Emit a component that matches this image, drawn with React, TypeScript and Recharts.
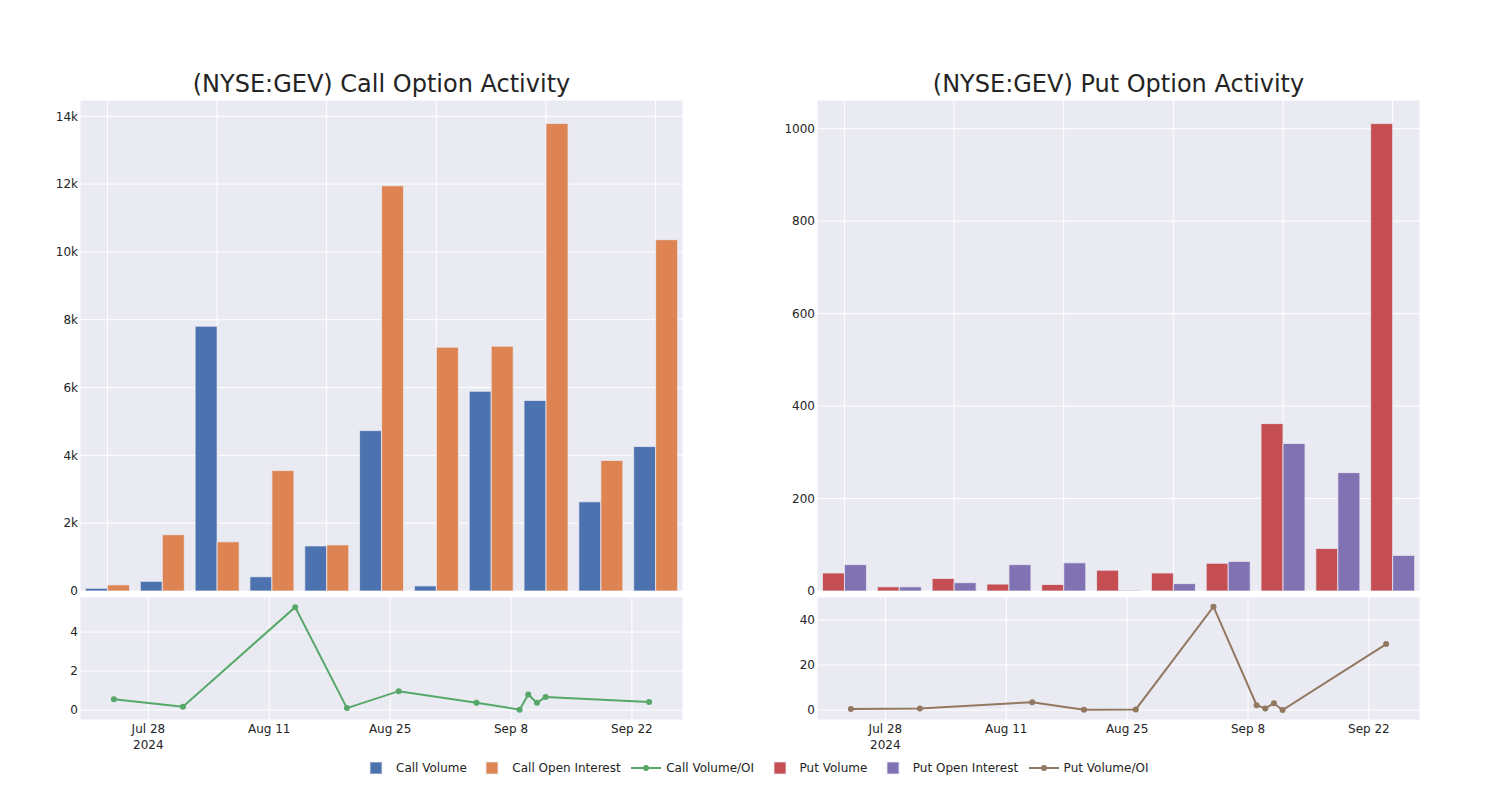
import { BarChart, Bar, LineChart, Line, XAxis, YAxis, CartesianGrid } from 'recharts';

const DAY = 86400000;

// trade dates (UTC midnight)
const dates = [
  Date.UTC(2024, 6, 24), Date.UTC(2024, 7, 1), Date.UTC(2024, 7, 14), Date.UTC(2024, 7, 20),
  Date.UTC(2024, 7, 26), Date.UTC(2024, 8, 4), Date.UTC(2024, 8, 9), Date.UTC(2024, 8, 10),
  Date.UTC(2024, 8, 11), Date.UTC(2024, 8, 12), Date.UTC(2024, 8, 24),
];

const callVolume = [80, 285, 7810, 420, 1330, 4730, 150, 5890, 5620, 2630, 4260];
const callOpenInterest = [180, 1660, 1450, 3550, 1360, 11950, 7190, 7220, 13790, 3850, 10360];
const callRatio = [0.56, 0.17, 5.28, 0.1, 0.97, 0.38, 0.02, 0.8, 0.37, 0.67, 0.41];

const putVolume = [39, 9, 27, 15, 14, 45, 39, 60, 362, 92, 1011];
const putOpenInterest = [57, 9, 18, 57, 61, 1.5, 16, 64, 319, 256, 77];
const putRatio = [0.45, 0.75, 3.5, 0.1, 0.3, 45.9, 2.2, 0.75, 3.0, 0.05, 29.3];

const dateTicks = [
  Date.UTC(2024, 6, 28), Date.UTC(2024, 7, 11), Date.UTC(2024, 7, 25),
  Date.UTC(2024, 8, 8), Date.UTC(2024, 8, 22),
];
const timeDomain = [dates[0] - 3.92 * DAY, dates[dates.length - 1] + 3.92 * DAY];

const callTicks = [0, 2000, 4000, 6000, 8000, 10000, 12000, 14000];
const putTicks = [0, 200, 400, 600, 800, 1000];
const callRatioTicks = [0, 2, 4];
const putRatioTicks = [0, 20, 40];

const BG = '#EAEAF2';
const TXT = '#242424';
const FONT = '"DejaVu Sans", sans-serif';
const MONTHS = ['Jan', 'Feb', 'Mar', 'Apr', 'May', 'Jun', 'Jul', 'Aug', 'Sep', 'Oct', 'Nov', 'Dec'];

const COLORS = {
  callVol: '#4C72B0',
  callOI: '#DD8452',
  callRatio: '#55A868',
  putVol: '#C44E52',
  putOI: '#8172B3',
  putRatio: '#937860',
};

const barRows = (vol: number[], oi: number[]) =>
  dates.map((d, i) => ({ date: d, vol: vol[i], oi: oi[i] }));
const lineRows = (ratio: number[]) => dates.map((d, i) => ({ date: d, ratio: ratio[i] }));

function DateTick({ x, y, payload, index }: any) {
  const d = new Date(payload.value);
  const label = `${MONTHS[d.getUTCMonth()]} ${d.getUTCDate()}`;
  return (
    <text x={x} y={y} textAnchor="middle" fill={TXT} fontSize={12} fontFamily={FONT}>
      <tspan x={x} dy="0.71em">{label}</tspan>
      {index === 0 && <tspan x={x} dy={16.5}>{d.getUTCFullYear()}</tspan>}
    </text>
  );
}

const kFormat = (v: number) => (v === 0 ? '0' : `${v / 1000}k`);
const tickStyle = { fill: TXT, fontSize: 12, fontFamily: FONT };

interface PanelProps {
  left: number;
  title: string;
  vol: number[];
  oi: number[];
  ratio: number[];
  volColor: string;
  oiColor: string;
  ratioColor: string;
  yMax: number;
  yTicks: number[];
  yFormat?: (v: number) => string;
  ratioDomain: number[];
  ratioTicks: number[];
}

function Panel(p: PanelProps) {
  return (
    <>
      <div
        style={{
          position: 'absolute', left: p.left + 80, top: 72, width: 603, textAlign: 'center',
          fontFamily: FONT, fontSize: 24, lineHeight: '24px', color: TXT, whiteSpace: 'nowrap',
        }}
      >
        {p.title}
      </div>
      <div style={{ position: 'absolute', left: p.left, top: 0 }}>
        <BarChart
          width={700}
          height={600}
          data={barRows(p.vol, p.oi)}
          margin={{ top: 100, right: 17, bottom: 9, left: 0 }}
          barCategoryGap="10%"
          barGap={0}
        >
          <CartesianGrid fill={BG} stroke="#ffffff" strokeWidth={1} />
          <XAxis dataKey="date" hide interval={1} />
          <YAxis
            width={80}
            domain={[0, p.yMax]}
            ticks={p.yTicks}
            tickFormatter={p.yFormat}
            axisLine={false}
            tickLine={false}
            tickSize={0}
            tickMargin={2}
            tick={tickStyle}
            allowDataOverflow
          />
          <Bar dataKey="vol" fill={p.volColor} stroke={BG} strokeWidth={0.8} isAnimationActive={false} />
          <Bar dataKey="oi" fill={p.oiColor} stroke={BG} strokeWidth={0.8} isAnimationActive={false} />
        </BarChart>
      </div>
      <div style={{ position: 'absolute', left: p.left, top: 591 }}>
        <LineChart
          width={700}
          height={180}
          data={lineRows(p.ratio)}
          margin={{ top: 6, right: 17, bottom: 11, left: 0 }}
        >
          <CartesianGrid fill={BG} stroke="#ffffff" strokeWidth={1} />
          <XAxis
            dataKey="date"
            type="number"
            scale="time"
            domain={timeDomain}
            ticks={dateTicks}
            height={40}
            axisLine={false}
            tickLine={false}
            tickSize={0}
            tickMargin={4}
            tick={<DateTick />}
            allowDataOverflow
          />
          <YAxis
            width={80}
            domain={p.ratioDomain}
            ticks={p.ratioTicks}
            axisLine={false}
            tickLine={false}
            tickSize={0}
            tickMargin={2}
            tick={tickStyle}
            allowDataOverflow
          />
          <Line
            dataKey="ratio"
            stroke={p.ratioColor}
            strokeWidth={2}
            dot={{ r: 3, fill: p.ratioColor, stroke: p.ratioColor, strokeWidth: 0 }}
            isAnimationActive={false}
          />
        </LineChart>
      </div>
    </>
  );
}

// legend icon sits centred in a 40px slot, text follows straight after
function LegendIcon({ color, line }: { color: string; line: boolean }) {
  return (
    <svg width={40} height={14}>
      {line ? (
        <>
          <line x1={5} y1={7} x2={35} y2={7} stroke={color} strokeWidth={2} />
          <circle cx={20} cy={7} r={3} fill={color} />
        </>
      ) : (
        <rect x={14} y={1} width={12} height={12} fill={color} stroke={BG} strokeWidth={0.8} />
      )}
    </svg>
  );
}

const legendItems = [
  { label: 'Call Volume', color: COLORS.callVol, line: false },
  { label: 'Call Open Interest', color: COLORS.callOI, line: false },
  { label: 'Call Volume/OI', color: COLORS.callRatio, line: true },
  { label: 'Put Volume', color: COLORS.putVol, line: false },
  { label: 'Put Open Interest', color: COLORS.putOI, line: false },
  { label: 'Put Volume/OI', color: COLORS.putRatio, line: true },
];

export default function App() {
  return (
    <div style={{ position: 'absolute', left: 0, top: 0, width: 1500, height: 800, background: '#ffffff', overflow: 'hidden' }}>
      <Panel
        left={0}
        title="(NYSE:GEV) Call Option Activity"
        vol={callVolume}
        oi={callOpenInterest}
        ratio={callRatio}
        volColor={COLORS.callVol}
        oiColor={COLORS.callOI}
        ratioColor={COLORS.callRatio}
        yMax={14480}
        yTicks={callTicks}
        yFormat={kFormat}
        ratioDomain={[-0.51, 5.8]}
        ratioTicks={callRatioTicks}
      />
      <Panel
        left={737}
        title="(NYSE:GEV) Put Option Activity"
        vol={putVolume}
        oi={putOpenInterest}
        ratio={putRatio}
        volColor={COLORS.putVol}
        oiColor={COLORS.putOI}
        ratioColor={COLORS.putRatio}
        yMax={1062}
        yTicks={putTicks}
        ratioDomain={[-4.4, 50.2]}
        ratioTicks={putRatioTicks}
      />
      <div
        style={{
          position: 'absolute', left: 356, top: 761, height: 14, display: 'flex', alignItems: 'center',
          fontFamily: FONT, fontSize: 12, color: TXT, whiteSpace: 'nowrap',
        }}
      >
        {legendItems.map((it) => (
          <span key={it.label} style={{ display: 'flex', alignItems: 'center', marginRight: 5.5 }}>
            <LegendIcon color={it.color} line={it.line} />
            {it.label}
          </span>
        ))}
      </div>
    </div>
  );
}
